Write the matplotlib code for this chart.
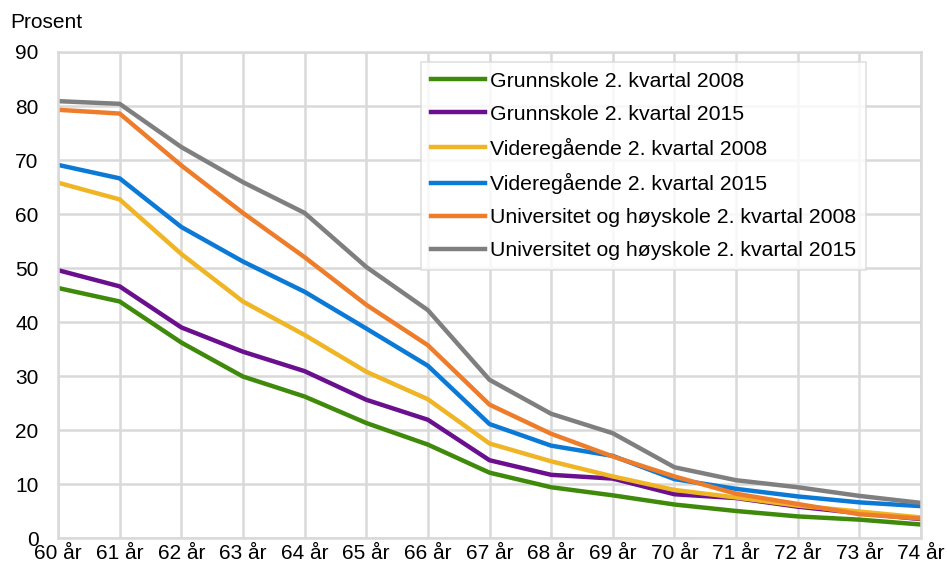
import matplotlib.pyplot as plt

plt.rcParams['font.family'] = ['Liberation Sans', 'DejaVu Sans']

alder = ['60 år', '61 år', '62 år', '63 år', '64 år', '65 år', '66 år', '67 år',
         '68 år', '69 år', '70 år', '71 år', '72 år', '73 år', '74 år']

grunn_2008 = [46.3, 43.8, 36.2, 29.9, 26.2, 21.3, 17.3, 12.1, 9.4, 7.9, 6.2, 5.0, 4.0, 3.4, 2.5]
grunn_2015 = [49.6, 46.6, 39.0, 34.5, 30.9, 25.6, 21.9, 14.4, 11.7, 11.0, 8.1, 7.4, 5.8, 4.6, 3.5]
vgs_2008 = [65.8, 62.7, 52.6, 43.8, 37.6, 30.8, 25.7, 17.5, 14.2, 11.4, 8.9, 7.5, 6.0, 4.9, 3.8]
vgs_2015 = [69.1, 66.6, 57.6, 51.2, 45.6, 38.8, 31.9, 21.1, 17.1, 15.2, 10.9, 9.1, 7.7, 6.6, 5.9]
uni_2008 = [79.3, 78.6, 69.0, 60.2, 52.0, 43.2, 35.7, 24.7, 19.3, 15.1, 11.4, 8.2, 6.3, 4.4, 3.6]
uni_2015 = [80.9, 80.4, 72.4, 65.9, 60.2, 50.2, 42.2, 29.3, 23.0, 19.4, 13.1, 10.7, 9.4, 7.8, 6.5]

serier = [
    ('Grunnskole 2. kvartal 2008', grunn_2008, '#3F8A0A'),
    ('Grunnskole 2. kvartal 2015', grunn_2015, '#6A0F8E'),
    ('Videregående 2. kvartal 2008', vgs_2008, '#EFB525'),
    ('Videregående 2. kvartal 2015', vgs_2015, '#0B7AD6'),
    ('Universitet og høyskole 2. kvartal 2008', uni_2008, '#EE7D2B'),
    ('Universitet og høyskole 2. kvartal 2015', uni_2015, '#7F7F7F'),
]

fig = plt.figure(figsize=(9.47, 5.63), dpi=100)
ax = fig.add_axes([58/947, 25/563, 863/947, 486/563])

x = list(range(len(alder)))
for navn, verdier, farge in serier:
    ax.plot(x, verdier, color=farge, linewidth=3.2, label=navn, solid_joinstyle='round')

ax.set_xlim(0, len(alder) - 1)
ax.set_ylim(0, 90)
ax.set_yticks(range(0, 91, 10))
ax.set_xticks(x)
ax.set_xticklabels(alder)
ax.tick_params(labelsize=15, length=0, pad=4)
ax.tick_params(axis='y', pad=14)

ax.grid(True, color='#D9D9D9', linewidth=1.8)
ax.set_axisbelow(True)
for s in ax.spines.values():
    s.set_color('#D9D9D9')
    s.set_linewidth(1.8)

fig.text(10/947, 1 - 22/563, 'Prosent', fontsize=15, va='center', ha='left')

leg = ax.legend(loc='upper left', bbox_to_anchor=(0.4206, 0.979), fontsize=15.3,
                frameon=True, fancybox=False, handlelength=2.55, handletextpad=0.25,
                borderpad=0.45, labelspacing=0.66, borderaxespad=0)
leg.get_frame().set_edgecolor('#D9D9D9')
leg.get_frame().set_linewidth(1.2)

fig.savefig('out.png', dpi=100)
